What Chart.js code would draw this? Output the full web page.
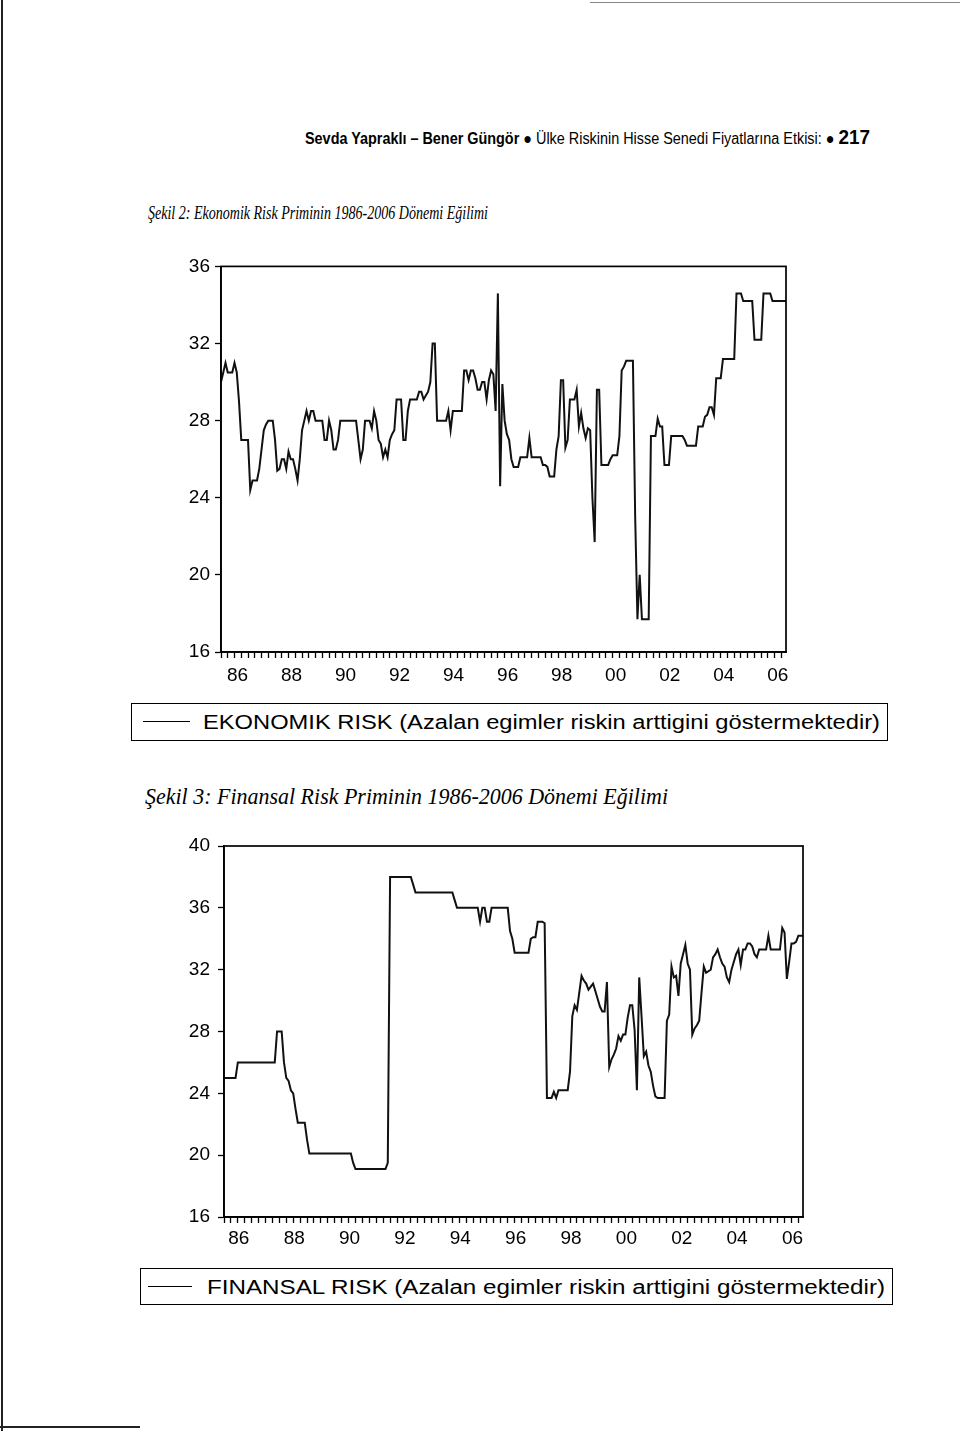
<!DOCTYPE html>
<html>
<head>
<meta charset="utf-8">
<script src="https://cdn.jsdelivr.net/npm/chart.js@4.4.1/dist/chart.umd.min.js"></script>
<style>
    body { margin: 0; background: #fff; width: 960px; height: 1431px; position: relative; overflow: hidden; font-family: "Liberation Sans", Arial, sans-serif; color: #000; }
    .abs { position: absolute; white-space: nowrap; }
    .fit { display: inline-block; transform-origin: 0 50%; }
    .baslik { font-family: "Liberation Serif", "Times New Roman", serif; font-style: italic; }
    .lejant { position: absolute; border: 1.6px solid #000; box-sizing: border-box; }
    .lejant .cizgi { position: absolute; height: 0; border-top: 1.6px solid #000; }
    .lejant .yazi { position: absolute; font-size: 20px; line-height: 20px; }
    .kenar { position: absolute; background: #222; }
</style>
</head>
<body>

<div class="kenar" style="left:1px;top:0;width:2px;height:1431px"></div>
<div class="kenar" style="left:0;top:1426px;width:140px;height:2px"></div>
<div class="kenar" style="left:590px;top:2px;width:370px;height:1px;background:#888"></div>

<div class="abs" style="left:305px;top:127px;line-height:20px">
    <span class="fit" id="ustbilgi" style="font-family:'Liberation Sans Narrow','Liberation Sans',Arial,sans-serif;font-size:16px">
        <b>Sevda Yapraklı – Bener Güngör</b> ● Ülke Riskinin Hisse Senedi Fiyatlarına Etkisi: ● <b style="font-size:21px">217</b>
    </span>
</div>

<div class="abs baslik" style="left:148px;top:202px;font-size:19px;line-height:22px">
    <span class="fit" id="baslik1">Şekil 2: Ekonomik Risk Priminin 1986-2006 Dönemi Eğilimi</span>
</div>

<canvas id="grafik1" class="abs" width="640" height="445" style="left:160px;top:250px"></canvas>

<div class="lejant" style="left:131px;top:703px;width:757px;height:38px">
    <div class="cizgi" style="left:11px;top:17px;width:47px"></div>
    <div class="yazi" style="left:71px;top:8px"><span class="fit" id="lejant1">EKONOMIK RISK (Azalan egimler riskin arttigini göstermektedir)</span></div>
</div>

<div class="abs baslik" style="left:145px;top:785px;font-size:23px;line-height:24px">
    <span class="fit" id="baslik2">Şekil 3: Finansal Risk Priminin 1986-2006 Dönemi Eğilimi</span>
</div>

<canvas id="grafik2" class="abs" width="660" height="434" style="left:160px;top:826px"></canvas>

<div class="lejant" style="left:140px;top:1268px;width:753px;height:37px">
    <div class="cizgi" style="left:7px;top:17px;width:44px"></div>
    <div class="yazi" style="left:66px;top:8px"><span class="fit" id="lejant2">FINANSAL RISK (Azalan egimler riskin arttigini göstermektedir)</span></div>
</div>

<script>
// aylik veri, 1986:01 - 2006:12
const yillar = [1986, 1987, 1988, 1989, 1990, 1991, 1992, 1993, 1994, 1995, 1996,
                1997, 1998, 1999, 2000, 2001, 2002, 2003, 2004, 2005, 2006];
const eksenEtiketleri = ['86', '88', '90', '92', '94', '96', '98', '00', '02', '04', '06'];

const ekonomikRisk = [
    30.0, 30.5, 31.0, 30.5, 30.5, 30.5, 31.0, 30.5, 29.0, 27.0, 27.0, 27.0, // 1986
    27.0, 24.4, 24.9, 24.9, 24.9, 25.5, 26.5, 27.5, 27.8, 28.0, 28.0, 28.0, // 1987
    27.0, 25.4, 25.5, 26.0, 26.0, 25.5, 26.4, 26.0, 26.0, 25.5, 24.9, 26.0, // 1988
    27.5, 28.0, 28.5, 28.0, 28.5, 28.5, 28.0, 28.0, 28.0, 28.0, 27.0, 27.0, // 1989
    28.0, 27.5, 26.5, 26.5, 27.0, 28.0, 28.0, 28.0, 28.0, 28.0, 28.0, 28.0, // 1990
    28.0, 27.0, 26.0, 26.5, 28.0, 28.0, 28.0, 27.6, 28.5, 28.0, 27.0, 26.8, // 1991
    26.1, 26.5, 26.1, 27.0, 27.3, 27.5, 29.1, 29.1, 29.1, 27.0, 27.0, 28.5, // 1992
    29.1, 29.1, 29.1, 29.1, 29.5, 29.5, 29.1, 29.3, 29.5, 30.0, 32.0, 32.0, // 1993
    28.0, 28.0, 28.0, 28.0, 28.0, 28.5, 27.5, 28.5, 28.5, 28.5, 28.5, 28.5, // 1994
    30.6, 30.6, 30.1, 30.6, 30.6, 30.2, 29.6, 29.6, 30.0, 30.0, 29.1, 30.1, // 1995
    30.6, 30.4, 28.5, 34.6, 24.6, 29.9, 28.0, 27.3, 27.0, 26.0, 25.6, 25.6, // 1996
    25.6, 26.1, 26.1, 26.1, 26.1, 27.1, 26.1, 26.1, 26.1, 26.1, 26.1, 25.7, // 1997
    25.7, 25.6, 25.1, 25.1, 25.1, 26.5, 27.2, 30.1, 30.1, 26.6, 27.0, 29.1, // 1998
    29.1, 29.1, 29.6, 27.7, 28.4, 27.6, 27.1, 27.6, 27.5, 24.0, 21.7, 29.6, // 1999
    29.6, 25.7, 25.7, 25.7, 25.7, 26.0, 26.2, 26.2, 26.2, 27.2, 30.6, 30.8, // 2000
    31.1, 31.1, 31.1, 31.1, 23.0, 17.7, 20.0, 17.7, 17.7, 17.7, 17.7, 27.2, // 2001
    27.2, 27.2, 28.1, 27.7, 27.7, 25.7, 25.7, 25.7, 27.2, 27.2, 27.2, 27.2, // 2002
    27.2, 27.2, 27.0, 26.7, 26.7, 26.7, 26.7, 26.7, 27.7, 27.7, 27.7, 28.2, // 2003
    28.3, 28.7, 28.7, 28.3, 30.2, 30.2, 30.2, 31.2, 31.2, 31.2, 31.2, 31.2, // 2004
    31.2, 34.6, 34.6, 34.6, 34.2, 34.2, 34.2, 34.2, 34.2, 32.2, 32.2, 32.2, // 2005
    32.2, 34.6, 34.6, 34.6, 34.6, 34.2, 34.2, 34.2, 34.2, 34.2, 34.2, 34.2  // 2006
];

const finansalRisk = [
    25.0, 25.0, 25.0, 25.0, 25.0, 25.0, 26.0, 26.0, 26.0, 26.0, 26.0, 26.0, // 1986
    26.0, 26.0, 26.0, 26.0, 26.0, 26.0, 26.0, 26.0, 26.0, 26.0, 26.0, 28.0, // 1987
    28.0, 28.0, 26.0, 25.0, 24.8, 24.2, 24.0, 23.0, 22.1, 22.1, 22.1, 22.1, // 1988
    21.0, 20.1, 20.1, 20.1, 20.1, 20.1, 20.1, 20.1, 20.1, 20.1, 20.1, 20.1, // 1989
    20.1, 20.1, 20.1, 20.1, 20.1, 20.1, 20.1, 20.1, 19.5, 19.1, 19.1, 19.1, // 1990
    19.1, 19.1, 19.1, 19.1, 19.1, 19.1, 19.1, 19.1, 19.1, 19.1, 19.1, 19.5, // 1991
    38.0, 38.0, 38.0, 38.0, 38.0, 38.0, 38.0, 38.0, 38.0, 38.0, 37.5, 37.0, // 1992
    37.0, 37.0, 37.0, 37.0, 37.0, 37.0, 37.0, 37.0, 37.0, 37.0, 37.0, 37.0, // 1993
    37.0, 37.0, 37.0, 37.0, 36.5, 36.0, 36.0, 36.0, 36.0, 36.0, 36.0, 36.0, // 1994
    36.0, 36.0, 36.0, 35.1, 36.0, 36.0, 35.1, 35.1, 36.0, 36.0, 36.0, 36.0, // 1995
    36.0, 36.0, 36.0, 36.0, 34.5, 34.0, 33.1, 33.1, 33.1, 33.1, 33.1, 33.1, // 1996
    33.1, 34.0, 34.1, 34.1, 35.1, 35.1, 35.1, 35.0, 23.7, 23.7, 23.7, 24.1, // 1997
    23.7, 24.2, 24.2, 24.2, 24.2, 24.2, 25.4, 29.0, 29.7, 29.4, 30.5, 31.6, // 1998
    31.3, 31.1, 30.7, 30.9, 31.1, 30.6, 30.1, 29.6, 29.3, 29.3, 31.2, 25.7, // 1999
    26.2, 26.5, 26.9, 27.7, 27.4, 27.8, 27.8, 28.9, 29.7, 29.7, 28.1, 24.2, // 2000
    31.5, 29.0, 26.4, 26.7, 25.8, 25.4, 24.5, 23.8, 23.7, 23.7, 23.7, 23.7, // 2001
    28.7, 29.1, 32.2, 31.5, 31.6, 30.3, 32.4, 33.0, 33.6, 32.4, 32.0, 27.8, // 2002
    28.2, 28.4, 28.7, 30.5, 32.2, 31.8, 31.9, 32.0, 32.8, 33.0, 33.3, 32.8, // 2003
    32.4, 32.2, 31.5, 31.2, 32.0, 32.5, 33.0, 33.3, 32.3, 33.3, 33.3, 33.7, // 2004
    33.7, 33.5, 33.0, 32.8, 33.3, 33.3, 33.3, 33.3, 34.2, 33.3, 33.3, 33.3, // 2005
    33.3, 33.3, 34.7, 34.4, 31.4, 32.5, 33.7, 33.7, 33.8, 34.2, 34.2, 34.2  // 2006
];

// kategori etiketleri: her ay icin bir tane
const aylar = [];
yillar.forEach(y => {
    for (let m = 1; m <= 12; m++) aylar.push(y + 'M' + (m < 10 ? '0' + m : m));
});

// grafik alaninin etrafina cerceve
const cerceve = {
    id: 'cerceve',
    afterDraw(chart) {
        const a = chart.chartArea, ctx = chart.ctx;
        ctx.save();
        ctx.strokeStyle = '#000';
        ctx.lineWidth = 1.7;
        ctx.strokeRect(a.left, a.top, a.right - a.left, a.bottom - a.top);
        ctx.restore();
    }
};

graficCiz = (id, veri, yMax, yGenislik, xYukseklik, pad, fontBoyu, yPad, xPad, xKaydir) => {
    const ctx = document.getElementById(id);
    return new Chart(ctx, {
        type: 'line',
        plugins: [cerceve],
        data: {
            labels: aylar,
            datasets: [{
                data: veri,
                borderColor: '#111',
                borderWidth: 2,
                pointRadius: 0,
                tension: 0,
                fill: false,
            }],
        },
        options: {
            responsive: false,
            animation: false,
            devicePixelRatio: 1,
            layout: { padding: pad },
            scales: {
                x: {
                    afterFit: s => { s.height = xYukseklik; },
                    grid: {
                        drawOnChartArea: false,
                        tickLength: 6,
                        tickWidth: 1.3,
                        // sadece ceyrek basi isaretleri
                        tickColor: c => (c.index % 3 === 0 ? '#000' : 'rgba(0,0,0,0)'),
                    },
                    border: { color: '#000', width: 1.7 },
                    ticks: {
                        autoSkip: false,
                        maxRotation: 0,
                        minRotation: 0,
                        padding: xPad,
                        labelOffset: xKaydir,
                        color: '#000',
                        font: { family: 'Liberation Sans', size: fontBoyu },
                        callback: (v, i) => (i % 24 === 6 ? eksenEtiketleri[Math.floor(i / 24)] : ''),
                    },
                },
                y: {
                    min: 16,
                    max: yMax,
                    afterFit: s => { s.width = yGenislik; },
                    grid: { drawOnChartArea: false, tickLength: 6, tickColor: '#000', tickWidth: 1.3 },
                    border: { color: '#000', width: 1.7 },
                    ticks: {
                        stepSize: 4,
                        padding: yPad,
                        color: '#000',
                        font: { family: 'Liberation Sans', size: fontBoyu },
                    },
                },
            },
            plugins: {
                legend: { display: false },
                tooltip: { enabled: false },
            },
        },
    });
};

graficCiz('grafik1', ekonomikRisk, 36, 61, 43, { top: 16, right: 14, left: 0, bottom: 0 }, 19, 5, 6, 3);
graficCiz('grafik2', finansalRisk, 40, 64, 43, { top: 20, right: 17, left: 0, bottom: 0 }, 19, 8, 4, 1);

// yazilari hedef genislige sigdir
sigdir = (id, w) => {
    const el = document.getElementById(id);
    const r = el.getBoundingClientRect().width;
    el.style.transform = 'scaleX(' + (w / r) + ')';
};
sigdir('ustbilgi', 565);
sigdir('baslik1', 340);
sigdir('baslik2', 523);
sigdir('lejant1', 677);
sigdir('lejant2', 678);
</script>
</body>
</html>
